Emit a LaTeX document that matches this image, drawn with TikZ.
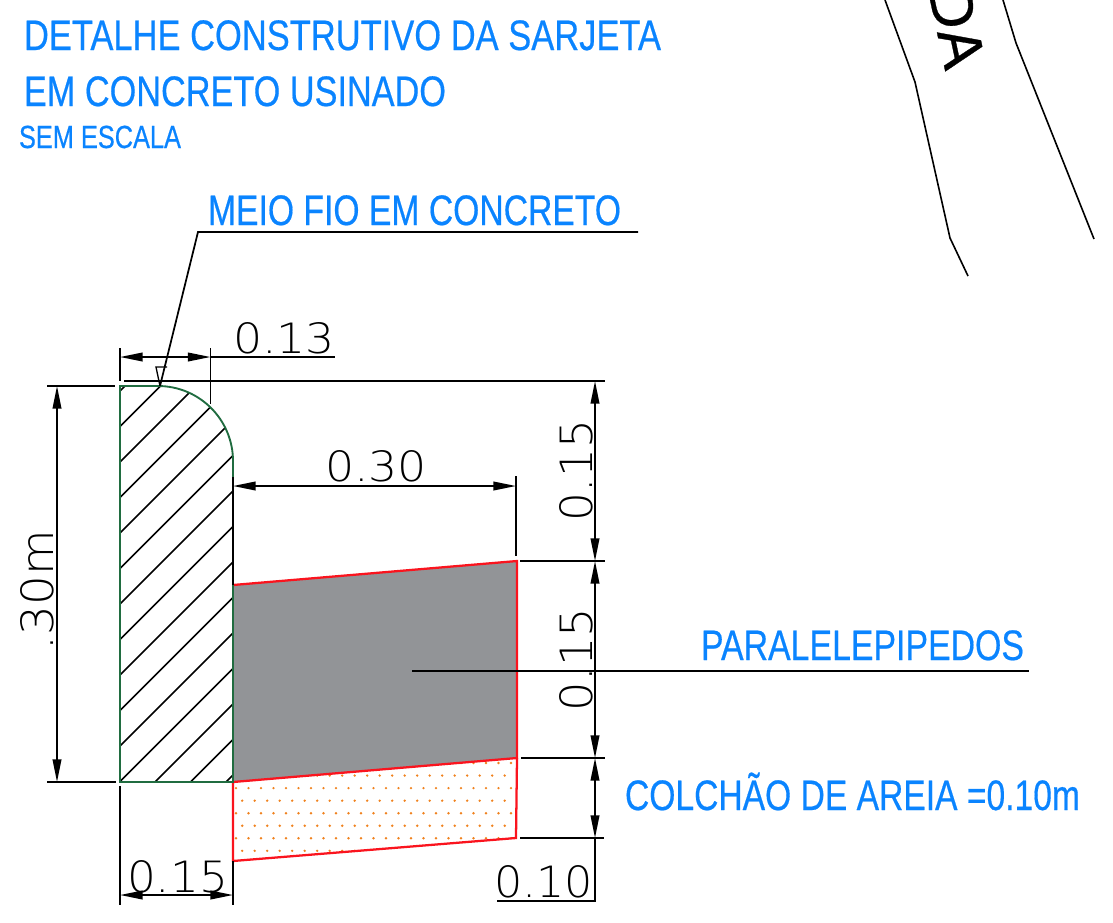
\documentclass[tikz,border=0pt]{standalone}
\usepackage{fontspec}
\usepackage{graphicx}
\usetikzlibrary{arrows.meta}
\setmainfont{Liberation Sans}
\newfontfamily\dimfont{DejaVu Sans ExtraLight}
\newfontfamily\bluefont[FakeBold=0.5]{Liberation Sans}
\newlength\pxu
\setlength\pxu{0.75pt}
\definecolor{titleblue}{RGB}{10,132,255}
\definecolor{curbgreen}{RGB}{32,108,64}
\definecolor{slabgrey}{RGB}{146,148,151}
\definecolor{sandorange}{RGB}{240,130,30}
\definecolor{edgered}{RGB}{250,20,30}
\tikzset{
  x=0.75pt,y=-0.75pt,
  inklabel/.style={inner sep=0pt,outer sep=0pt,anchor=base west},
  bluelabel/.style={inklabel,text=titleblue,font=\bluefont\fontsize{32}{32}\selectfont},
  smallblue/.style={inklabel,text=titleblue,font=\bluefont\fontsize{24}{24}\selectfont},
  dimlabel/.style={inklabel,text=black,font=\dimfont\fontsize{32}{32}\selectfont},
  thinline/.style={line width=1.3pt,black},
  dimline/.style={line width=1.3pt,black,{Triangle[length=17pt,width=6.5pt]}-{Triangle[length=17pt,width=6.5pt]}},
  curbline/.style={line width=1.4pt,curbgreen},
  redline/.style={line width=1.7pt,edgered,line join=miter},
  hatchline/.style={line width=1.2pt,black},
  roadline/.style={line width=1.2pt,black},
}
\begin{document}
\begin{tikzpicture}
\useasboundingbox (0,0) rectangle (1113,922);
% key points
\coordinate (tl) at (120,386);
\coordinate (arcs) at (158,386);
\coordinate (arce) at (233,461);
\coordinate (bl) at (120,782);
\coordinate (br) at (233,782);
\coordinate (slabtl) at (233,585);
\coordinate (slabtr) at (517,561);
\coordinate (slabbr) at (517,758);
\coordinate (sandbr) at (516,838);
\coordinate (sandbl) at (233,861);

% slab and sand
\fill[slabgrey] (slabtl) -- (slabtr) -- (slabbr) -- (br) -- cycle;
\begin{scope}
  \clip (br) -- (slabbr) -- (sandbr) -- (sandbl) -- cycle;
  \foreach \r in {0,...,8}{
    \pgfmathsetmacro{\ry}{763+\r*12.55}
    \pgfmathsetmacro{\ro}{mod(\r,2)*6.2+236}
    \foreach \c in {0,...,23}{
      \fill[sandorange] ({\ro+\c*12.5},\ry) circle (1pt);
    }
  }
\end{scope}
\draw[redline] (slabtl) -- (slabtr) -- (slabbr) -- (br);
\draw[redline] (br) -- (sandbl) -- (sandbr) -- (slabbr);

% curb hatch
\begin{scope}
  \clip (tl) -- (arcs) arc[start angle=-90,end angle=0,radius=75] -- (br) -- (bl) -- cycle;
  \foreach \k in {0,...,15}{
    \pgfmathsetmacro{\cc}{511+\k*35.5}
    \draw[hatchline] (100,{\cc-100}) -- (260,{\cc-260});
  }
\end{scope}
\draw[curbline] (arcs) -- (tl) -- (bl) -- (br) -- (arce) arc[start angle=0,end angle=-90,radius=75];
\coordinate (blacktop) at (233,477);
\coordinate (blackbot) at (233,585);
\draw[thinline,line width=1.4pt] (blacktop) -- (blackbot);

% 0.13 dimension
\coordinate (d13a) at (120,357);
\coordinate (d13b) at (210.5,357);
\coordinate (d13e) at (335,357);
\coordinate (t13a) at (120,348);
\coordinate (t13a2) at (120,381);
\coordinate (t13b) at (210.5,348);
\coordinate (t13b2) at (210.5,404);
\draw[thinline] (t13a) -- (t13a2);
\draw[thinline] (t13b) -- (t13b2);
\draw[dimline] (d13a) -- (d13b);
\draw[thinline] (d13b) -- (d13e);
\node[dimlabel] (l13) at (233,353) {\resizebox{102\pxu}{31\pxu}{0.13}};

% top and left reference lines
\coordinate (refa) at (124,381);
\coordinate (refb) at (605,381);
\draw[thinline] (refa) -- (refb);
\coordinate (lefta) at (47,386);
\coordinate (leftb) at (115,386);
\coordinate (leftc) at (47,782);
\coordinate (leftd) at (116,782);
\draw[thinline] (lefta) -- (leftb);
\draw[thinline] (leftc) -- (leftd);
\coordinate (dla) at (57,386);
\coordinate (dlb) at (57,782);
\draw[dimline] (dla) -- (dlb);
\node[dimlabel,rotate=90] (l30m) at (53,650) {\resizebox{120\pxu}{33\pxu}{.30m}};

% leader for the curb
\coordinate (lda) at (638,232);
\coordinate (ldb) at (198,232);
\coordinate (ldc) at (160,386);
\coordinate (tria) at (156,367);
\coordinate (trib) at (167,367);
\draw[thinline] (lda) -- (ldb) -- (ldc);
\draw[thinline,line width=1pt] (ldc) -- (tria) -- (trib);

% 0.30 dimension
\coordinate (d30a) at (233,486);
\coordinate (d30b) at (516,486);
\coordinate (t30a) at (516,476);
\coordinate (t30b) at (516,556);
\draw[dimline] (d30a) -- (d30b);
\draw[thinline] (t30a) -- (t30b);
\node[dimlabel] (l30) at (325,481) {\resizebox{102\pxu}{31\pxu}{0.30}};

% right hand dimension chain
\coordinate (r1) at (595,381);
\coordinate (r2) at (595,561);
\coordinate (r3) at (595,758);
\coordinate (r4) at (595,838);
\coordinate (r5) at (595,901);
\coordinate (r6) at (497,901);
\coordinate (h2a) at (520,561);
\coordinate (h2b) at (605,561);
\coordinate (h3a) at (521,758);
\coordinate (h3b) at (605,758);
\coordinate (h4a) at (520,838);
\coordinate (h4b) at (604,838);
\draw[dimline] (r1) -- (r2);
\draw[dimline] (r2) -- (r3);
\draw[dimline] (r3) -- (r4);
\draw[thinline] (r4) -- (r5) -- (r6);
\draw[thinline] (h2a) -- (h2b);
\draw[thinline] (h3a) -- (h3b);
\draw[thinline] (h4a) -- (h4b);
\node[dimlabel,rotate=90] (l15a) at (592,521) {\resizebox{101\pxu}{33\pxu}{0.15}};
\node[dimlabel,rotate=90] (l15b) at (592,711) {\resizebox{103\pxu}{33\pxu}{0.15}};
\node[dimlabel] (l10) at (494,897) {\resizebox{99\pxu}{32\pxu}{0.10}};

% bottom 0.15 dimension
\coordinate (b1a) at (120,786);
\coordinate (b1b) at (120,905);
\coordinate (b2a) at (233,861);
\coordinate (b2b) at (233,905);
\coordinate (bda) at (120,895);
\coordinate (bdb) at (233,895);
\draw[thinline] (b1a) -- (b1b);
\draw[thinline] (b2a) -- (b2b);
\draw[dimline] (bda) -- (bdb);
\node[dimlabel] (l15c) at (127,892) {\resizebox{101\pxu}{32\pxu}{0.15}};

% paralelepipedos leader
\coordinate (para) at (412,671);
\coordinate (parb) at (1029,671);
\draw[thinline] (para) -- (parb);

% blue labels
\node[bluelabel] (t1) at (24,50) {\resizebox{637\pxu}{\height}{DETALHE CONSTRUTIVO DA SARJETA}};
\node[bluelabel] (t2) at (24,106) {\resizebox{422\pxu}{\height}{EM CONCRETO USINADO}};
\node[smallblue] (t3) at (19,148) {\resizebox{162\pxu}{\height}{SEM ESCALA}};
\node[bluelabel] (t4) at (208,225) {\resizebox{413\pxu}{\height}{MEIO FIO EM CONCRETO}};
\node[bluelabel] (t5) at (701,660) {\resizebox{323\pxu}{\height}{PARALELEPIPEDOS}};
\node[bluelabel] (t6) at (625,810) {\resizebox{455\pxu}{\height}{COLCHÃO DE AREIA =0.10m}};

% road fragment
\coordinate (ra) at (885,0);
\coordinate (rb) at (915,82);
\coordinate (rc) at (950,238);
\coordinate (rd) at (968,276);
\coordinate (re) at (1003,0);
\coordinate (rf) at (1016,43);
\coordinate (rg) at (1094,239);
\draw[roadline] (ra) -- (rb) -- (rc) -- (rd);
\draw[roadline] (re) -- (rf) -- (rg);
\begin{scope}
\clip (0,0) rectangle (1113,922);
\node[inklabel,rotate=-78,font=\bluefont\fontsize{45}{45}\selectfont] (road) at (928,-10) {DA};
\end{scope}
\end{tikzpicture}
\end{document}
